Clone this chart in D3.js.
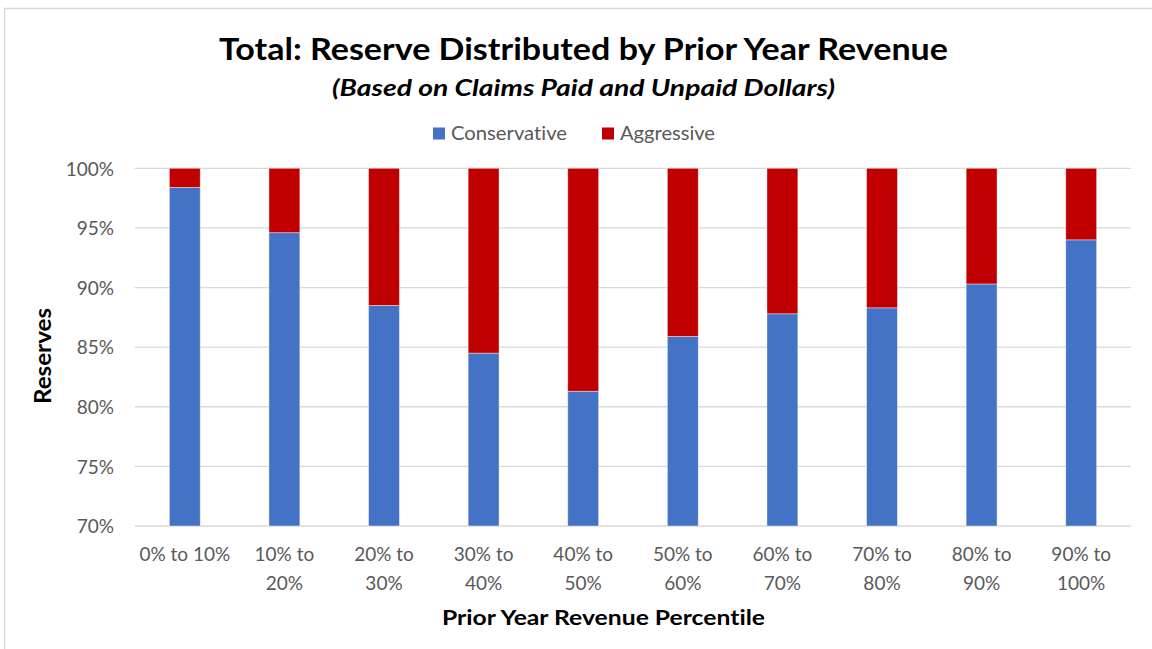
<!DOCTYPE html>
<html>
<head>
<meta charset="utf-8">
<script src="https://cdn.jsdelivr.net/npm/d3@7"></script>
<style>
  html, body { margin: 0; padding: 0; background: #fff; }
  svg { display: block; }
  text { font-family: Lato, "Open Sans", sans-serif; font-variant-ligatures: none; }
</style>
</head>
<body>
<svg id="chart" width="1152" height="649"></svg>
<script>
// Revenue percentile buckets (second line of each label after "|")
const categories = ["0% to 10%", "10% to|20%", "20% to|30%", "30% to|40%", "40% to|50%",
                    "50% to|60%", "60% to|70%", "70% to|80%", "80% to|90%", "90% to|100%"];
// Share of reserves, in percent
const conservative = [98.4, 94.6, 88.5, 84.5, 81.3, 85.9, 87.8, 88.3, 90.3, 94.0];
const aggressive   = [1.6, 5.4, 11.5, 15.5, 18.7, 14.1, 12.2, 11.7, 9.7, 6.0];
const yTicks = [70, 75, 80, 85, 90, 95, 100];
const seriesNames = ["Conservative", "Aggressive"];
const seriesColors = ["#4472C4", "#C00000"];

const svg = d3.select("#chart");
const W = 1152, H = 649;
const plot = { left: 135, right: 1131, top: 168.3, bottom: 526 };

// Outer chart frame
svg.append("rect").attr("x", 4.5).attr("y", 8.5).attr("width", W).attr("height", H)
  .attr("fill", "none").attr("stroke", "#D9D9D9").attr("stroke-width", 1.5);

const x = d3.scaleBand().domain(d3.range(categories.length))
  .range([plot.left, plot.right]).paddingInner(0.69).paddingOuter(0.345);
const y = d3.scaleLinear().domain([70, 100]).range([plot.bottom, plot.top]);

// Gridlines
svg.append("g").selectAll("line").data(yTicks).join("line")
  .attr("x1", plot.left).attr("x2", plot.right)
  .attr("y1", d => y(d)).attr("y2", d => y(d))
  .attr("stroke", "#D9D9D9").attr("stroke-width", 1.3);

// Stacked bars
const rows = categories.map((c, i) => ({ i, Conservative: conservative[i], Aggressive: aggressive[i] }));
const stack = d3.stack().keys(seriesNames)(rows);
const g = svg.append("g");
stack.forEach((layer, li) => {
  g.append("g").selectAll("rect").data(layer).join("rect")
    .attr("x", d => x(d.data.i))
    .attr("width", x.bandwidth())
    .attr("y", d => y(Math.min(d[1], 100)))
    .attr("height", d => Math.max(0, y(Math.max(d[0], 70)) - y(Math.min(d[1], 100))))
    .attr("fill", seriesColors[li])
    .attr("stroke", "rgba(255,255,255,0.5)").attr("stroke-width", 0.8);
});

// Y axis labels
const yAxis = d3.axisLeft(y).tickValues(yTicks).tickFormat(d => d + "%").tickSize(0).tickPadding(0);
const ya = svg.append("g").attr("transform", `translate(114,0)`).call(yAxis);
ya.select(".domain").remove();
ya.selectAll("text").attr("font-size", 19).attr("fill", "#595959")
  .attr("font-family", "Lato, sans-serif").attr("dy", "0.36em");

// X axis labels (two lines)
const xAxis = d3.axisBottom(x).tickSize(0).tickFormat("");
const xa = svg.append("g").attr("transform", `translate(0,${plot.bottom})`).call(xAxis);
xa.select(".domain").remove();
xa.selectAll(".tick").each(function(d) {
  const parts = categories[d].split("|");
  const t = d3.select(this).append("text").attr("text-anchor", "middle")
    .attr("fill", "#595959").attr("font-size", 19);
  parts.forEach((p, k) => {
    t.append("tspan").attr("x", 0).attr("y", 35 + k * 29).text(p);
  });
});

// Titles
svg.append("text").attr("x", 583.5).attr("y", 60).attr("text-anchor", "middle")
  .attr("font-size", 31).attr("font-weight", 700).attr("fill", "#000")
  .attr("textLength", 729).attr("lengthAdjust", "spacingAndGlyphs")
  .text("Total: Reserve Distributed by Prior Year Revenue");
svg.append("text").attr("x", 583.5).attr("y", 96).attr("text-anchor", "middle")
  .attr("font-size", 23).attr("font-weight", 700).attr("font-style", "italic").attr("fill", "#000")
  .attr("textLength", 503).attr("lengthAdjust", "spacingAndGlyphs")
  .text("(Based on Claims Paid and Unpaid Dollars)");

// Legend
const legend = [
  { name: seriesNames[0], color: seriesColors[0], sx: 433, tx: 451, tw: 116 },
  { name: seriesNames[1], color: seriesColors[1], sx: 602, tx: 620, tw: 95 }
];
legend.forEach(l => {
  svg.append("rect").attr("x", l.sx).attr("y", 127.5).attr("width", 12).attr("height", 12).attr("fill", l.color);
  svg.append("text").attr("x", l.tx).attr("y", 140).attr("font-size", 19).attr("fill", "#595959")
    .attr("textLength", l.tw).attr("lengthAdjust", "spacingAndGlyphs").text(l.name);
});

// Axis titles
svg.append("text").attr("transform", "translate(51,356) rotate(-90)").attr("text-anchor", "middle")
  .attr("font-size", 23).attr("font-weight", 700).attr("fill", "#000")
  .attr("textLength", 96).attr("lengthAdjust", "spacingAndGlyphs").text("Reserves");
svg.append("text").attr("x", 603.5).attr("y", 625).attr("text-anchor", "middle")
  .attr("font-size", 21).attr("font-weight", 700).attr("fill", "#000")
  .attr("textLength", 323).attr("lengthAdjust", "spacingAndGlyphs")
  .text("Prior Year Revenue Percentile");
</script>
</body>
</html>
